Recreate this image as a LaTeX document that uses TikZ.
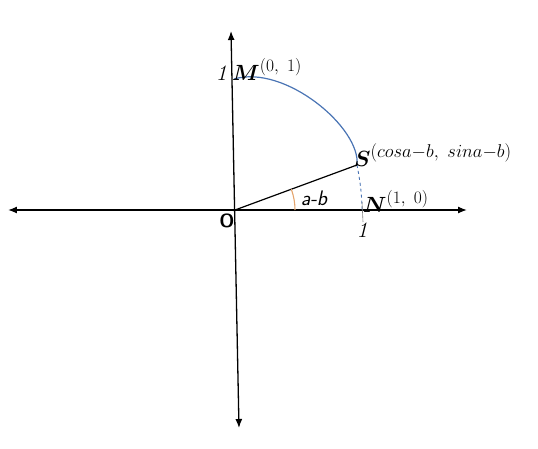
\RequirePackage{fix-cm}
\documentclass[tikz,border=0pt]{standalone}
\usepackage{amsmath,bm}
\usetikzlibrary{arrows.meta}
\definecolor{arcblue}{HTML}{4A74B4}
\definecolor{angorange}{HTML}{E4A46C}
\newcommand{\pt}[3][17.5]{$\bm{#2}$\raisebox{9pt}{\fontsize{#1}{19}\selectfont$#3$}}
\tikzset{
  axis/.style={line width=1.3pt,{Latex[length=9pt,width=7pt]}-{Latex[length=9pt,width=7pt]}},
  big/.style={font=\fontsize{22}{24}\selectfont},
}
\begin{document}
\begin{tikzpicture}[x=1pt,y=1pt]
\useasboundingbox (-235,-238) rectangle (303,210);
\coordinate (O) at (0,0);
\coordinate (xl) at (-227,0);
\coordinate (xr) at (232,0);
\coordinate (yb) at (4,-218);
\coordinate (yt) at (-4,179);
\coordinate (M) at (-1,131);
\coordinate (N) at (127,0);
\coordinate (S) at (122,45);
\draw[axis](xl)--(xr);
\draw[axis](yb)--(yt);
\draw[arcblue,line width=1.2pt](M)..controls (50,146) and (126,82)..(S);
\draw[arcblue,line width=0.9pt,dashed](S)..controls (125,30) and (127,15)..(N);
\draw[gray,line width=0.6pt](127,8)--(128,-12);
\draw[line width=1.2pt](O)--(S);
\draw[angorange,line width=1.1pt](60,0) arc[start angle=0,end angle=20.2,radius=60];
\node[big,anchor=base east,inner sep=1pt] (one1) at (-7,130) {\textit{1}};
\node[big,anchor=base west,inner sep=0pt] (Mlab) at (-3,130) {\pt{M}{(0,\ 1)}};
\node[big,anchor=base west,inner sep=0pt] (Slab) at (119,44) {\pt[18.5]{S}{(cosa{-}b,\ sina{-}b)}};
\node[big,anchor=base west,inner sep=0pt] (Nlab) at (128,-2) {\pt{N}{(1,\ 0)}};
\node[big] (one2) at (127,-20) {\textit{1}};
\node[font=\fontsize{19}{21}\selectfont\sffamily\bfseries] (Olab) at (-8,-11) {O};
\node[font=\fontsize{21}{23}\selectfont\sffamily\itshape] (ang) at (79,12) {a-b};
\end{tikzpicture}
\end{document}
